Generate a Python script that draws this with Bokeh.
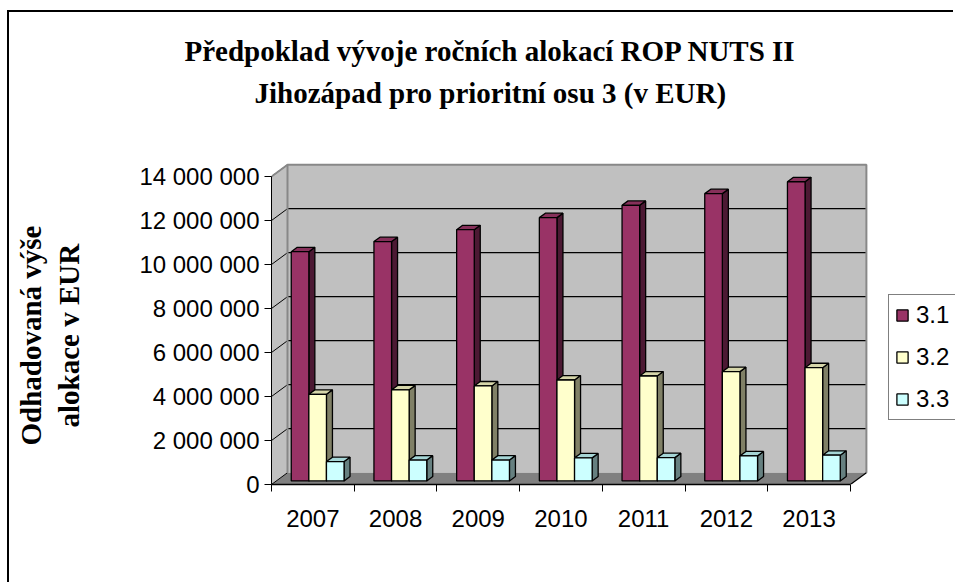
from bokeh.plotting import figure
from bokeh.models import Range1d, FixedTicker, Title, Legend, LegendItem, ColumnDataSource
from bokeh.embed import file_html
from bokeh.resources import INLINE

# ---------------- data ----------------
years = ["2007", "2008", "2009", "2010", "2011", "2012", "2013"]
series_names = ["3.1", "3.2", "3.3"]
osa_3_1 = [10420000, 10880000, 11420000, 11970000, 12530000, 13060000, 13600000]
osa_3_2 = [3940000, 4140000, 4320000, 4590000, 4770000, 4970000, 5150000]
osa_3_3 = [880000, 950000, 950000, 1050000, 1060000, 1140000, 1170000]
y_ticks = [0, 2000000, 4000000, 6000000, 8000000, 10000000, 12000000, 14000000]
y_tick_labels = ["0", "2 000 000", "4 000 000", "6 000 000", "8 000 000",
                 "10 000 000", "12 000 000", "14 000 000"]
title_lines = ["Předpoklad vývoje ročních alokací ROP NUTS II",
               "Jihozápad pro prioritní osu 3 (v EUR)"]
y_title_lines = ["Odhadovaná výše", "alokace v EUR"]

# ---------------- styles ----------------
front_colors = ["#993366", "#FFFFCC", "#CCFFFF"]
top_colors = ["#86305A", "#D6D6AA", "#A6D6D6"]
side_colors = ["#4C1933", "#808066", "#668080"]
WALL = "#C0C0C0"
FLOOR = "#808080"

W, H = 946, 572
FL, FT = 262, 146
FB = 100
FW, FH = W - FL, H - FB - FT
PX_CAT = 82.7
PX_EUR = 22.0 / 1e6
n = len(years)
ymax = y_ticks[-1]

DX = 16 / PX_CAT
DY = 11.8 / PX_EUR
BAR_W = 17.6 / PX_CAT
D0, D1 = 0.30, 0.675

p = figure(width=W, height=H, x_range=Range1d(0, FW / PX_CAT), y_range=Range1d(0, FH / PX_EUR),
           output_backend="svg", toolbar_location=None, min_border_left=FL, min_border_right=0,
           min_border_top=FT, min_border_bottom=FB)
p.outline_line_color = None
p.grid.visible = False
p.background_fill_color = "white"
p.border_fill_color = "white"
p.styles = {"border-left": "2px solid black", "border-top": "2px solid black",
            "margin-top": "10px", "margin-left": "7px"}

# ---------------- 3D walls ----------------
p.patch([0, DX, DX, 0], [0, DY, ymax + DY, ymax], fill_color=WALL, line_color=None)
p.patch([DX, n + DX, n + DX, DX], [DY, DY, ymax + DY, ymax + DY], fill_color=WALL, line_color=None)
p.patch([0, n, n + DX, DX], [0, 0, DY, DY], fill_color=FLOOR, line_color=None)
grid_vals = y_ticks[1:-1]
p.segment(x0=[DX] * len(grid_vals), y0=[v + DY for v in grid_vals],
          x1=[n + DX] * len(grid_vals), y1=[v + DY for v in grid_vals], line_color="black", line_width=1.2)
p.segment(x0=[0] * len(y_ticks), y0=y_ticks, x1=[DX] * len(y_ticks), y1=[v + DY for v in y_ticks],
          line_color="black", line_width=1)
p.line([0, DX, n + DX, n + DX], [ymax, ymax + DY, ymax + DY, DY], line_color="#888888", line_width=2)
p.line([DX, DX], [DY, ymax + DY], line_color="#888888", line_width=2)
p.line([n, n + DX], [0, DY], line_color="black", line_width=1.2)

# ---------------- bars ----------------
series = [osa_3_1, osa_3_2, osa_3_3]
legend_items = []
bx0, by0 = D0 * DX, D0 * DY
bdx, bdy = (D1 - D0) * DX, (D1 - D0) * DY
for k, vals in enumerate(series):
    lefts = [i + 0.5 - 1.5 * BAR_W + k * BAR_W + bx0 for i in range(n)]
    rights = [l + BAR_W for l in lefts]
    tops = [by0 + v for v in vals]
    side_xs = [[r, r + bdx, r + bdx, r] for r in rights]
    side_ys = [[by0, by0 + bdy, t + bdy, t] for t in tops]
    top_xs = [[l, r, r + bdx, l + bdx] for l, r in zip(lefts, rights)]
    top_ys = [[t, t, t + bdy, t + bdy] for t in tops]
    p.patches(side_xs, side_ys, fill_color=side_colors[k], line_color="black", line_width=1.3)
    p.patches(top_xs, top_ys, fill_color=top_colors[k], line_color="black", line_width=1.3)
    src = ColumnDataSource(dict(left=lefts, right=rights, bottom=[by0] * n, top=tops, year=years))
    r = p.quad(left="left", right="right", bottom="bottom", top="top", source=src,
               fill_color=front_colors[k], line_color="black", line_width=1.3)
    legend_items.append(LegendItem(label=series_names[k], renderers=[r]))

# ---------------- axes ----------------
ya = p.yaxis[0]
ya.ticker = FixedTicker(ticks=y_ticks, minor_ticks=[])
ya.major_label_overrides = {v: s for v, s in zip(y_ticks, y_tick_labels)}
ya.bounds = (0, ymax)
ya.major_tick_out = 7
ya.major_tick_in = 0
ya.major_label_standoff = 5
ya.axis_line_color = "black"
ya.major_tick_line_color = "black"
ya.major_label_text_font = "Liberation Sans"
ya.major_label_text_font_size = "24px"
ya.major_label_text_color = "black"

xa = p.xaxis[0]
xa.ticker = FixedTicker(ticks=[i + 0.5 for i in range(n)], minor_ticks=list(range(n + 1)))
xa.major_label_overrides = {i + 0.5: y for i, y in enumerate(years)}
xa.bounds = (0, n)
xa.major_tick_out = 0
xa.major_tick_in = 0
xa.minor_tick_out = 7
xa.minor_tick_in = 0
xa.minor_tick_line_color = "black"
xa.axis_line_color = "black"
xa.axis_line_width = 1.3
xa.major_label_standoff = 18
xa.major_label_text_font = "Liberation Sans"
xa.major_label_text_font_size = "24px"
xa.major_label_text_color = "black"

# ---------------- y-axis title (two rotated lines in the left panel) ----------------
p.add_layout(Title(text=" ", text_font_size="10px", standoff=37), "left")  # gap to tick labels
for line, off in [(y_title_lines[1], 57), (y_title_lines[0], 39)]:
    p.add_layout(Title(text=line, align="left", offset=off, text_font="Liberation Serif",
                       text_font_style="bold", text_font_size="29px", text_color="black",
                       standoff=4), "left")

# ---------------- chart title (two lines, stacked outward from the frame) ----------------
p.add_layout(Title(text=" ", text_font_size="10px", standoff=33), "above")  # gap to the wall
for line, off in [(title_lines[1], -17), (title_lines[0], -87)]:
    p.add_layout(Title(text=line, align="left", offset=off, text_font="Liberation Serif",
                       text_font_style="bold", text_font_size="29px", text_color="black",
                       standoff=8), "above")

# ---------------- legend ----------------
legend = Legend(items=legend_items, location=(617, 64), border_line_color="black", border_line_width=1,
                background_fill_color="white", background_fill_alpha=1.0,
                label_text_font="Liberation Sans", label_text_font_size="24px", label_text_color="black",
                glyph_width=14, glyph_height=14, label_standoff=7, spacing=14, padding=6, margin=0)
p.add_layout(legend)

open("out.html", "w").write(file_html(p, INLINE))
